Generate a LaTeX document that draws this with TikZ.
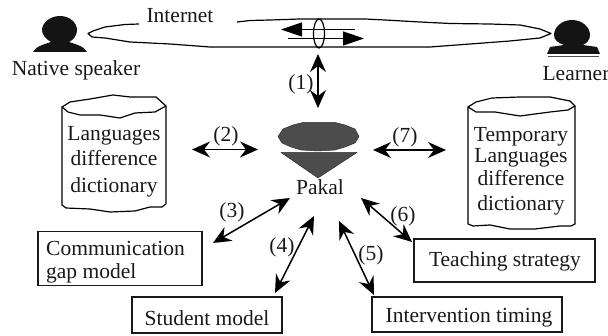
\documentclass[tikz,border=0pt]{standalone}
\usepackage{fontspec}
\setmainfont{Liberation Serif}
\usetikzlibrary{arrows.meta,shapes.geometric}
\tikzset{
  x=1pt,y=-1pt,
  lab/.style={inner sep=0pt,font=\fontsize{21.5}{24}\selectfont,text=black!90},
  boxn/.style={draw=black!90,line width=1.3pt,inner sep=0pt},
  wob/.style={draw=black,line width=1.2pt,line join=round},
  dbl/.style={draw=black,line width=1.5pt,{Stealth[length=18pt,width=16pt,inset=6pt]}-{Stealth[length=18pt,width=16pt,inset=6pt]}},
  sgl/.style={draw=black,line width=1.3pt,-{Stealth[length=21pt,width=14pt,inset=0pt]}},
  dark/.style={fill=black!70,draw=black!80,line width=0.5pt,line join=round},
  person/.style={fill=black!92,draw=none}
}
\begin{document}
\begin{tikzpicture}
\useasboundingbox (0,0) rectangle (608,336);
% persons
\fill[person] (60,16) .. controls (70,16) and (77,23) .. (77,30) .. controls (77,36) and (73,40) .. (69,42) .. controls (75,44) and (84,46) .. (87,52) -- (33,52) .. controls (36,46) and (45,44) .. (51,42) .. controls (46,39) and (42,35) .. (42,30) .. controls (42,23) and (50,16) .. (60,16) -- cycle;
\fill[person] (572,20) .. controls (582,20) and (590,27) .. (590,35) .. controls (590,40) and (587,43) .. (583,45) -- (597,47) -- (600,54) -- (547,54) -- (550,47) -- (564,45) .. controls (558,43) and (554,40) .. (554,35) .. controls (554,27) and (562,20) .. (572,20) -- cycle;
\draw[line width=0.6pt,black!70] (548,56.5) -- (599,56.5);
\node[lab,anchor=base] (native) at (76,76) {Native speaker};
\node[lab,anchor=base] (learner) at (576,81) {Learner};
\node[lab,anchor=base] (internet) at (180,23) {Internet};
% pipe
\draw[wob] (139,24) -- (125,24.5) -- (105,27) -- (93,31) -- (88,33.5) -- (92,37) -- (105,38) -- (130,42) -- (170,44) -- (210,47) -- (430,47) -- (470,44) -- (510,41) -- (540,38) -- (551,33.5) -- (540,29) -- (520,25) -- (490,24) -- (450,23.5) -- (420,22) -- (385,20) -- (365,19) -- (300,19) -- (270,20) -- (250,20.5) -- (237,22);
\node[draw=black,line width=1.2pt,ellipse,minimum width=11pt,minimum height=29pt,inner sep=0pt] (pipering) at (319,33.5) {};
\coordinate (a1) at (355,29.5); \coordinate (a2) at (281,29.5);
\coordinate (b1) at (288,38.5); \coordinate (b2) at (364,38.5);
\draw[sgl] (a1) -- (a2);
\draw[sgl] (b1) -- (b2);
% Pakal
\fill[dark] (278,136.5) -- (283,129) -- (293,125) -- (303,122.5) -- (335,122.5) -- (345,125) -- (355,129) -- (359,136.5) -- (355,143) -- (345,147) -- (335,150) -- (318,151) -- (301,150) -- (291,147) -- (282,143) -- cycle;
\fill[dark] (281,152.5) -- (357,152.5) -- (318,178) -- cycle;
\node[lab,anchor=base] (pakal) at (320,195) {Pakal};
% cylinders
\draw[wob] (62,107) -- (70,102) -- (90,99) -- (113,95) -- (130,97) -- (156,97) -- (166,106) -- (155,112) -- (135,113) -- (120,118) -- (100,115) -- (80,115) -- (68,112) -- cycle;
\draw[wob] (62,107) -- (62,205) -- (66,208) -- (90,209) -- (110,212) -- (135,211) -- (150,207) -- (162,207) -- (166,204) -- (166,106);
\draw[wob] (468,107) -- (476,102) -- (492,98) -- (520,97) -- (550,97) -- (570,101) -- (575,106) -- (568,110) -- (550,112) -- (520,116) -- (495,112) -- (476,112) -- cycle;
\draw[wob] (468,107) -- (468,224) -- (473,226) -- (490,225) -- (510,229) -- (535,229) -- (560,226) -- (571,226) -- (575,224) -- (575,106);
\node[lab,anchor=base] (cl1) at (114,141) {Languages};
\node[lab,anchor=base] (cl2) at (114,166) {difference};
\node[lab,anchor=base] (cl3) at (114,193) {dictionary};
\node[lab,anchor=base] (cr1) at (521,142) {Temporary};
\node[lab,anchor=base] (cr2) at (521,163) {Languages};
\node[lab,anchor=base] (cr3) at (521,186) {difference};
\node[lab,anchor=base] (cr4) at (521,211) {dictionary};
% boxes
\node[boxn,minimum width=164pt,minimum height=54.5pt] (comm) at (120,258.5) {};
\node[lab,anchor=base west] at (46,256) {Communication};
\node[lab,anchor=base west] at (46,279) {gap model};
\node[boxn,minimum width=150pt,minimum height=36pt] (student) at (207,315) {};
\node[lab,anchor=base] at (207,326) {Student model};
\node[boxn,minimum width=181pt,minimum height=43pt] (teach) at (504.5,260.5) {};
\node[lab,anchor=base] at (505,267) {Teaching strategy};
\node[boxn,minimum width=190pt,minimum height=35pt] (interv) at (467,314.5) {};
\node[lab,anchor=base] at (469,323) {Intervention timing};
% double arrows
\coordinate (e1a) at (318,54); \coordinate (e1b) at (318,108);
\coordinate (e2a) at (192,149.5); \coordinate (e2b) at (258,149.5);
\coordinate (e7a) at (373,150); \coordinate (e7b) at (446,150);
\coordinate (e3a) at (290,198); \coordinate (e3b) at (213,243);
\coordinate (e4a) at (314,216); \coordinate (e4b) at (275,293);
\coordinate (e5a) at (339,221); \coordinate (e5b) at (374,295);
\coordinate (e6a) at (361,198); \coordinate (e6b) at (412,242);
\foreach \p/\q in {e1a/e1b,e2a/e2b,e7a/e7b,e3a/e3b,e4a/e4b,e5a/e5b,e6a/e6b} \draw[dbl] (\p) -- (\q);
\node[lab] (l1) at (301,84) {(1)};
\node[lab] (l2) at (226,136) {(2)};
\node[lab] (l3) at (232,212) {(3)};
\node[lab] (l4) at (282,247) {(4)};
\node[lab] (l5) at (371,255) {(5)};
\node[lab] (l6) at (403,216) {(6)};
\node[lab] (l7) at (405,137) {(7)};
\end{tikzpicture}
\end{document}
